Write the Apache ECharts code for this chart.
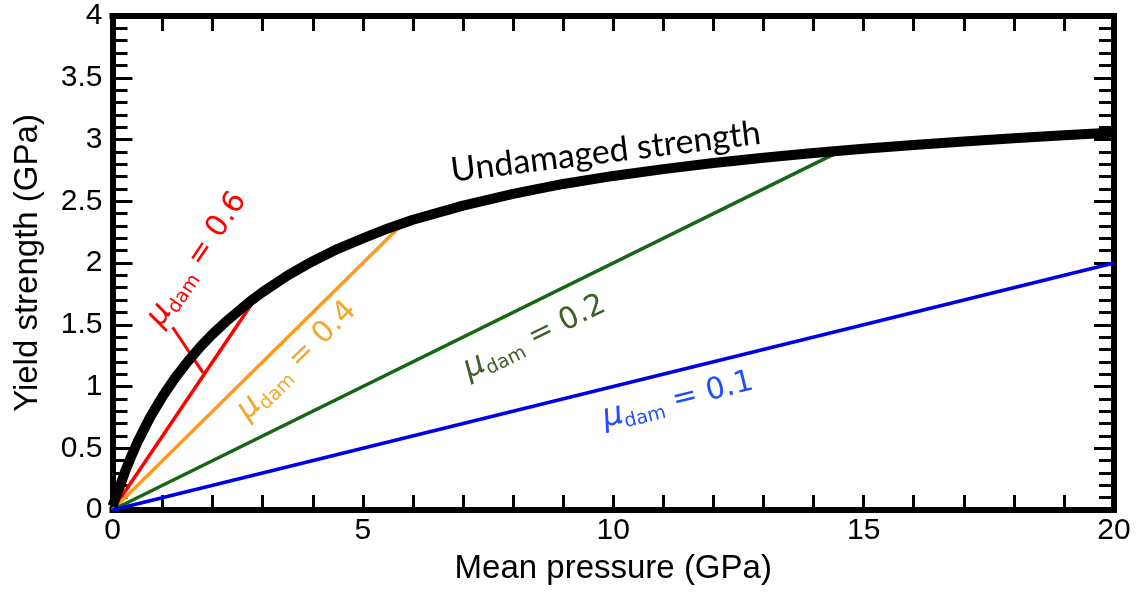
<!DOCTYPE html>
<html><head><meta charset="utf-8">
<script src="https://cdn.jsdelivr.net/npm/echarts@6/dist/echarts.min.js"></script>
<style>html,body{margin:0;padding:0;background:#fff}#c{width:1140px;height:593px}</style>
</head><body><div id="c"></div>
<script>
// Undamaged strength curve
const pressure  = [0, 0.1, 0.25, 0.35, 0.5, 0.75, 1, 1.25, 1.5, 1.75, 2, 2.25, 2.5, 2.75, 3, 3.5, 4, 4.5, 5, 5.5, 6, 7, 8, 9, 10, 11, 12, 13, 14, 15, 16, 17, 18, 19, 20];
const undamaged = [0.03, 0.14, 0.31, 0.41, 0.55, 0.75, 0.92, 1.07, 1.2, 1.32, 1.425, 1.52, 1.605, 1.69, 1.765, 1.9, 2.015, 2.115, 2.2, 2.28, 2.35, 2.465, 2.56, 2.64, 2.705, 2.76, 2.81, 2.853, 2.89, 2.925, 2.956, 2.984, 3.01, 3.034, 3.056];

// Damaged lines: mu values and their end points
const muValues = ['0.6', '0.4', '0.2', '0.1'];
const muLineX  = [[0, 2.85], [0, 5.8], [0, 14.5], [0, 20]];
const muLineY  = [[0, 1.71], [0, 2.32], [0, 2.9], [0, 2.0]];
const muColors = ['#ff0000', '#ff9a1f', '#156615', '#0000e6'];
const muLabelColors = ['#ff0000', '#f2a72e', '#3f5f25', '#1f4fff'];
// label anchor positions (data coords) and angles (deg)
const muLabelX = [1.69, 3.68, 8.43, 11.29];
const muLabelY = [2.03, 1.21, 1.40, 0.89];
const muLabelAngle = [56, 44.6, 26, 14];

// red leader line
const leaderX = [1.2, 1.81];
const leaderY = [1.48, 1.11];

const undamagedLabel = {text: 'Undamaged strength', x: 9.85, y: 2.90, angle: 7};

const xTicks = {min: 0, max: 20, interval: 5};
const yTicks = {min: 0, max: 4, interval: 0.5};

const chart = echarts.init(document.getElementById('c'));
const zip = (a, b) => a.map((v, i) => [v, b[i]]);

const axisCommonX = (pos, showLabel) => ({
  type: 'value', position: pos, min: xTicks.min, max: xTicks.max, interval: xTicks.interval,
  axisLine: {show: true, onZero: false, lineStyle: {color: '#000', width: 6, cap: 'square'}},
  axisTick: {show: true, inside: true, length: 15, lineStyle: {color: '#000', width: 3}},
  minorTick: {show: true, splitNumber: 5, length: 15, lineStyle: {color: '#000', width: 3}},
  splitLine: {show: false}, minorSplitLine: {show: false},
  axisLabel: {show: showLabel, color: '#000', fontSize: 30, fontFamily: 'Liberation Sans', margin: 6},
  name: showLabel ? 'Mean pressure (GPa)' : '',
  nameLocation: 'middle', nameGap: 42,
  nameTextStyle: {color: '#000', fontSize: 33, fontFamily: 'Liberation Sans'}
});
const axisCommonY = (pos, showLabel) => ({
  type: 'value', position: pos, min: yTicks.min, max: yTicks.max, interval: yTicks.interval,
  axisLine: {show: true, onZero: false, lineStyle: {color: '#000', width: 6, cap: 'square'}},
  axisTick: {show: true, inside: true, length: 20, lineStyle: {color: '#000', width: 3}},
  minorTick: {show: true, splitNumber: 5, length: 15, lineStyle: {color: '#000', width: 3}},
  splitLine: {show: false}, minorSplitLine: {show: false},
  axisLabel: {show: showLabel, color: '#000', fontSize: 30, fontFamily: 'Liberation Sans', margin: 10},
  name: showLabel ? 'Yield strength (GPa)' : '',
  nameLocation: 'middle', nameGap: 68,
  nameTextStyle: {color: '#000', fontSize: 33, fontFamily: 'Liberation Sans'}
});

const series = [];
muValues.forEach((m, i) => {
  series.push({
    type: 'line', xAxisIndex: 0, yAxisIndex: 0, data: zip(muLineX[i], muLineY[i]),
    showSymbol: false, symbol: 'none', lineStyle: {color: muColors[i], width: 3.5}, silent: true, z: 2
  });
});
series.push({
  type: 'line', xAxisIndex: 0, yAxisIndex: 0, data: zip(leaderX, leaderY),
  symbol: 'none', lineStyle: {color: muColors[0], width: 3}, silent: true, z: 2
});
series.push({
  type: 'line', xAxisIndex: 0, yAxisIndex: 0, data: zip(pressure, undamaged),
  smooth: false, symbol: 'none', lineStyle: {color: '#000', width: 10, join: 'round', cap: 'butt'}, silent: true, z: 3
});

chart.setOption({
  animation: false,
  backgroundColor: '#fff',
  grid: {left: 112.5, right: 26, top: 16, bottom: 83, containLabel: false},
  xAxis: [axisCommonX('bottom', true), axisCommonX('top', false)],
  yAxis: [axisCommonY('left', true), axisCommonY('right', false)],
  series: series
});

function buildGraphics() {
  const els = [];
  muValues.forEach((m, i) => {
    const p = chart.convertToPixel({xAxisIndex: 0, yAxisIndex: 0}, [muLabelX[i], muLabelY[i]]);
    els.push({
      type: 'text', x: p[0], y: p[1], rotation: muLabelAngle[i] * Math.PI / 180, z: 10,
      style: {
        text: '{mu|μ}{sub|dam}{main| = ' + m + '}',
        fill: muLabelColors[i], align: 'center', verticalAlign: 'middle',
        rich: {
          mu: {fontFamily: 'DejaVu Sans', fontStyle: 'italic', fontSize: 32, lineHeight: 37, fill: muLabelColors[i]},
          sub: {fontFamily: 'DejaVu Sans', fontSize: 19, lineHeight: 19, verticalAlign: 'bottom', fill: muLabelColors[i]},
          main: {fontFamily: 'DejaVu Sans', fontSize: 30, lineHeight: 37, fill: muLabelColors[i]}
        }
      }
    });
  });
  const q = chart.convertToPixel({xAxisIndex: 0, yAxisIndex: 0}, [undamagedLabel.x, undamagedLabel.y]);
  els.push({
    type: 'text', x: q[0], y: q[1], rotation: undamagedLabel.angle * Math.PI / 180, z: 10,
    style: {text: undamagedLabel.text, fill: '#000', font: '34px Lato', align: 'center', verticalAlign: 'middle'}
  });
  chart.setOption({graphic: els});
}
buildGraphics();
</script></body></html>
